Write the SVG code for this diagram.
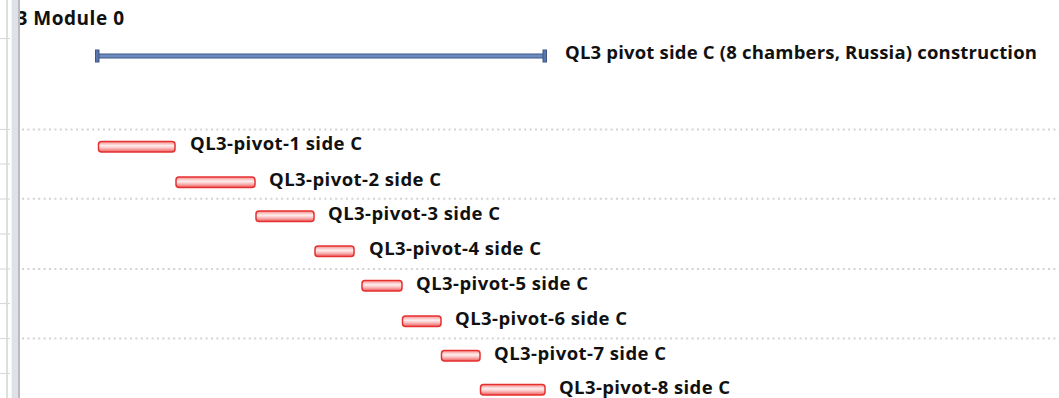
<svg xmlns="http://www.w3.org/2000/svg" width="1059" height="398" viewBox="0 0 1059 398">
<style>
.lbl{font-family:"Open Sans","Liberation Sans",Arial,sans-serif;font-weight:bold;font-size:18.5px;fill:#111}
.dot{stroke:#d3d3d3;stroke-width:2;stroke-dasharray:2 3.4;fill:none}
.tick{stroke:#dadada;stroke-width:1.2}
.bar{fill:url(#rg);stroke:#e53030;stroke-width:1.5}
</style>
<defs>
<linearGradient id="rg" x1="0" y1="0" x2="0" y2="1">
<stop offset="0" stop-color="#f48a8a"/>
<stop offset="0.4" stop-color="#ffeeee"/>
<stop offset="0.6" stop-color="#fbc8c8"/>
<stop offset="1" stop-color="#ee5a5a"/>
</linearGradient>
</defs>
<rect width="1059" height="398" fill="#ffffff"/>
<g id="grid">
<line class="dot" x1="22" y1="129.5" x2="1059" y2="129.5"/>
<line class="dot" x1="22" y1="198.8" x2="1059" y2="198.8"/>
<line class="dot" x1="22" y1="269" x2="1059" y2="269"/>
<line class="dot" x1="22" y1="338.5" x2="1059" y2="338.5"/>
</g>
<g id="header">
<text class="lbl" x="16.5" y="25" style="font-size:19px" textLength="107.5" lengthAdjust="spacing">3 Module 0</text>
</g>
<g id="leftpanel">
<rect x="0" y="0" width="11" height="398" fill="#ffffff"/>
<line x1="7" y1="0" x2="7" y2="398" stroke="#dedede" stroke-width="2"/>
<rect x="11" y="0" width="1" height="398" fill="#f4f4f6"/>
<rect x="12" y="0" width="6" height="398" fill="#dfe1e8"/>
<rect x="18" y="0" width="2" height="398" fill="#b9bbc0"/>
<line class="tick" x1="0" y1="38.5" x2="10" y2="38.5"/>
<line class="tick" x1="0" y1="129.5" x2="10" y2="129.5"/>
<line class="tick" x1="0" y1="164" x2="10" y2="164"/>
<line class="tick" x1="0" y1="199" x2="10" y2="199"/>
<line class="tick" x1="0" y1="234" x2="10" y2="234"/>
<line class="tick" x1="0" y1="269" x2="10" y2="269"/>
<line class="tick" x1="0" y1="303.5" x2="10" y2="303.5"/>
<line class="tick" x1="0" y1="338.5" x2="10" y2="338.5"/>
<line class="tick" x1="0" y1="373.5" x2="10" y2="373.5"/>
</g>
<g id="summary">
<rect x="97" y="54" width="448" height="4" fill="#6f8cc0" stroke="#3d5688" stroke-width="1"/>
<rect x="95.5" y="50" width="3.5" height="12" fill="#5a76aa" stroke="#3d5688" stroke-width="1"/>
<rect x="543" y="50" width="3.5" height="12" fill="#5a76aa" stroke="#3d5688" stroke-width="1"/>
<text class="lbl" x="565" y="59" textLength="472" lengthAdjust="spacing">QL3 pivot side C (8 chambers, Russia) construction</text>
</g>
<g id="task1">
<rect class="bar" x="98.5" y="141.5" width="76.5" height="10.5" rx="3"/>
<text class="lbl" x="190" y="150" textLength="172" lengthAdjust="spacing">QL3-pivot-1 side C</text>
</g>
<g id="task2">
<rect class="bar" x="176" y="177" width="79" height="10.5" rx="3"/>
<text class="lbl" x="269" y="185.5" textLength="172" lengthAdjust="spacing">QL3-pivot-2 side C</text>
</g>
<g id="task3">
<rect class="bar" x="256" y="211" width="58" height="10.5" rx="3"/>
<text class="lbl" x="328" y="220" textLength="172" lengthAdjust="spacing">QL3-pivot-3 side C</text>
</g>
<g id="task4">
<rect class="bar" x="315" y="246" width="39" height="10.5" rx="3"/>
<text class="lbl" x="369" y="255" textLength="172" lengthAdjust="spacing">QL3-pivot-4 side C</text>
</g>
<g id="task5">
<rect class="bar" x="362" y="280.5" width="40" height="10.5" rx="3"/>
<text class="lbl" x="416" y="289.5" textLength="172" lengthAdjust="spacing">QL3-pivot-5 side C</text>
</g>
<g id="task6">
<rect class="bar" x="402.5" y="316" width="38.5" height="10.5" rx="3"/>
<text class="lbl" x="455" y="325" textLength="172" lengthAdjust="spacing">QL3-pivot-6 side C</text>
</g>
<g id="task7">
<rect class="bar" x="441.5" y="350.5" width="38.5" height="10.5" rx="3"/>
<text class="lbl" x="494" y="359.5" textLength="172" lengthAdjust="spacing">QL3-pivot-7 side C</text>
</g>
<g id="task8">
<rect class="bar" x="480.5" y="384.5" width="64.5" height="10.5" rx="3"/>
<text class="lbl" x="559" y="393.5" textLength="171" lengthAdjust="spacing">QL3-pivot-8 side C</text>
</g>
</svg>
